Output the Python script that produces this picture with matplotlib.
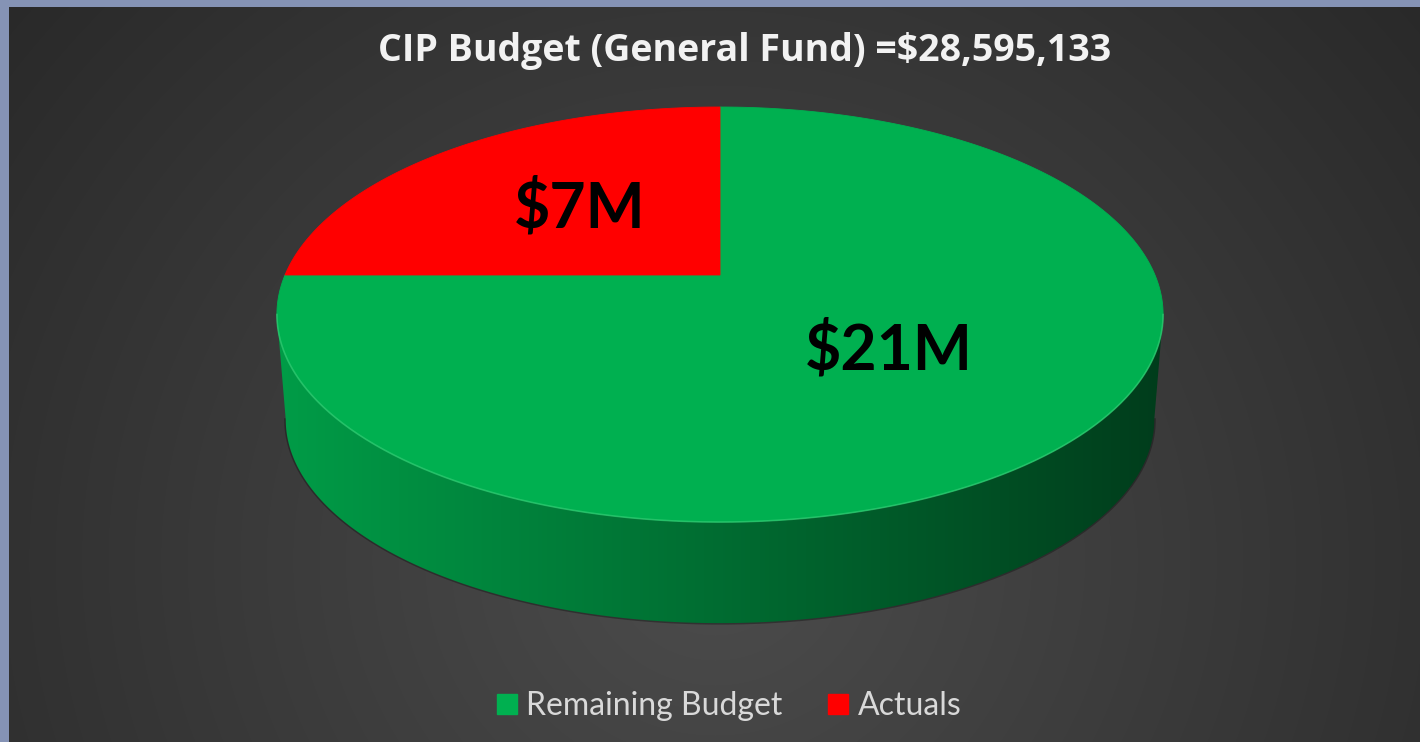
import numpy as np
import matplotlib
matplotlib.use("Agg")
import matplotlib.pyplot as plt
from matplotlib.patches import Polygon
from matplotlib.lines import Line2D

# ---- data ----
title = "CIP Budget (General Fund) =$28,595,133"
categories = ["Remaining Budget", "Actuals"]
values_musd = [21.45, 7.15]          # $ millions
value_labels = ["$21M", "$7M"]
colors = ["#00B050", "#FF0000"]

# ---- figure ----
W, H = 1420, 742
fig = plt.figure(figsize=(14.2, 7.42), dpi=100)
fig.patch.set_facecolor("#8593b5")
ax = fig.add_axes([0, 0, 1, 1])
ax.axis("off")

# background radial gradient (chart area)
L, T = 9, 7
yy, xx = np.mgrid[T:H, L:W]
d = np.sqrt(((xx - 715) / 950.0) ** 2 + ((yy - 560) / 900.0) ** 2)
g = (76 - 36 * np.clip(d, 0, 1)) / 255.0
ax.imshow(np.dstack([g, g, g]), extent=(L, W, H, T), aspect="auto",
          interpolation="bilinear", zorder=0)

# ---- 3D pie geometry (perspective projection of a disk) ----
cx, cy = 720, 275
A, B, c = 435.0, 200.0, 0.1905
depth, shrink = 106.0, 0.98


def proj(theta, bottom=False):
    X, Y = np.cos(theta), np.sin(theta)
    den = 1 + c * Y
    u, v = A * X / den, B * Y / den
    if bottom:
        return cx + shrink * u, cy - shrink * v + depth
    return cx + u, cy - v


total = sum(values_musd)
fracs = np.array(values_musd) / total
starts = np.pi / 2 - 2 * np.pi * np.concatenate([[0], np.cumsum(fracs)[:-1]])
ends = starts - 2 * np.pi * fracs

vis_lo, vis_hi = -np.pi + np.arcsin(c), -np.arcsin(c)   # visible front side

# side faces
for s, e, col in zip(starts, ends, colors):
    for shift in (-2 * np.pi, 0, 2 * np.pi):
        lo, hi = max(e + shift, vis_lo), min(s + shift, vis_hi)
        if hi <= lo:
            continue
        th = np.linspace(lo, hi, 300)
        tx, ty = proj(th)
        bx, by = proj(th[::-1], bottom=True)
        poly = Polygon(np.column_stack([np.r_[tx, bx], np.r_[ty, by]]),
                       closed=True, facecolor="none", edgecolor="none")
        ax.add_patch(poly)
        x0, x1 = cx - A * 1.03, cx + A * 1.03
        gx = np.linspace(0, 1, 400)
        f = 0.89 - 0.55 * gx
        base = np.array(matplotlib.colors.to_rgb(col))
        img = (base[None, None, :] * f[None, :, None]).repeat(2, axis=0)
        im = ax.imshow(img, extent=(x0, x1, cy + B * 1.4 + depth, cy - B),
                       aspect="auto", interpolation="bilinear", zorder=2)
        im.set_clip_path(poly)
        # soft shadow on outer bottom edge
        ax.plot(bx, by, color="#151515", alpha=0.45, lw=2.2, zorder=1.9)

# top faces
for s, e, col in zip(starts, ends, colors):
    th = np.linspace(s, e, 400)
    tx, ty = proj(th)
    pts = np.column_stack([np.r_[cx, tx], np.r_[cy, ty]])
    ax.add_patch(Polygon(pts, closed=True, facecolor=col, edgecolor=col,
                         lw=0.6, zorder=3))
    # subtle highlight along front rim
    lo, hi = max(e, vis_lo), min(s, vis_hi)
    if hi > lo:
        hx, hy = proj(np.linspace(lo, hi, 300))
        ax.plot(hx, hy, color="#4fe08a", alpha=0.45, lw=1.2, zorder=3.5)

# value labels
for s, e, lab in zip(starts, ends, value_labels):
    mid = (s + e) / 2
    X, Y = 0.5 * np.cos(mid), 0.5 * np.sin(mid)
    den = 1 + c * Y
    ax.text(cx + A * X / den + 4, cy - B * Y / den, lab, ha="center",
            va="center", fontsize=45, fontweight="bold", family="Lato",
            color="black", zorder=5)

ax.set_xlim(0, W)
ax.set_ylim(H, 0)

# title
fig.text(745 / W, 1 - 51 / H, title, ha="center", va="center",
         color="#f2f2f2", fontsize=27, fontweight="bold", family="Open Sans")

# legend
handles = [Line2D([], [], marker="s", ls="", markersize=14,
                  markerfacecolor=col, markeredgecolor=col) for col in colors]
leg = fig.legend(handles, categories, loc="center",
                 bbox_to_anchor=(727 / W, 1 - 706 / H), ncol=2, frameon=False,
                 prop={"family": "Lato", "size": 23}, labelcolor="#d9d9d9",
                 handletextpad=0.15, columnspacing=1.3, handlelength=0.9)

fig.savefig("out.png", dpi=100, facecolor=fig.get_facecolor())
